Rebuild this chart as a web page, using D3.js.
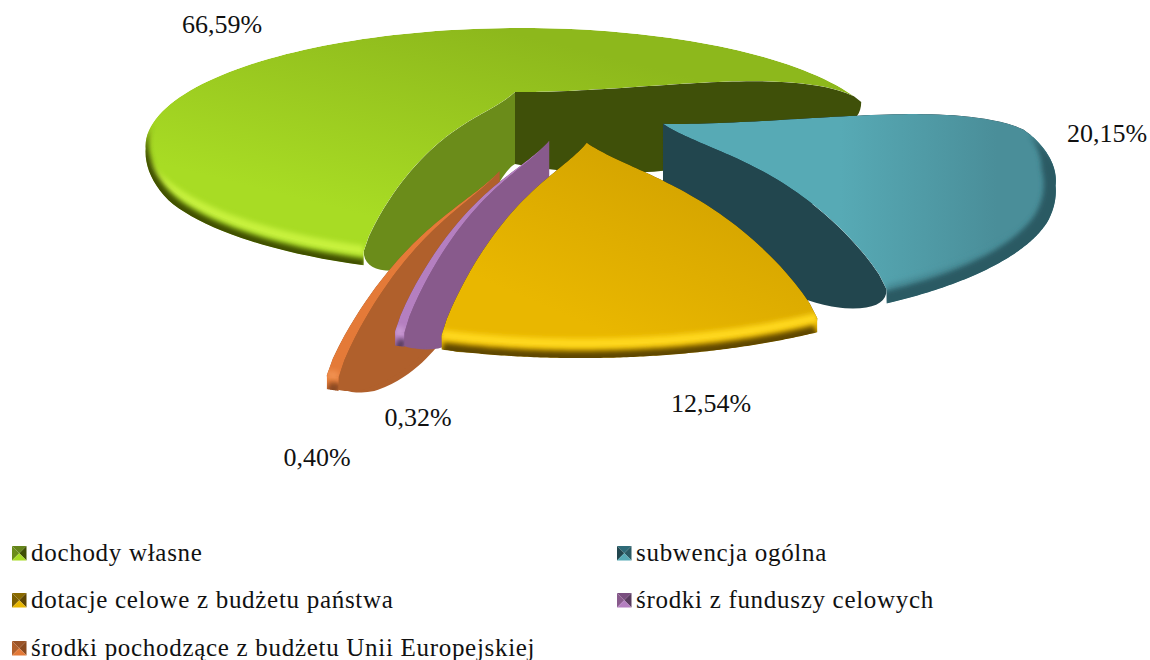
<!DOCTYPE html>
<html>
<head>
<meta charset="utf-8">
<script src="https://cdn.jsdelivr.net/npm/d3@7"></script>
<style>
    body { margin: 0; background: #fff; }
    text { font-family: "Liberation Serif", serif; fill: #111; }
</style>
</head>
<body>
<svg id="chart" width="1150" height="660"></svg>
<script>
// Values
const categories = ["dochody własne", "subwencja ogólna", "dotacje celowe z budżetu państwa",
    "środki z funduszy celowych", "środki pochodzące z budżetu Unii Europejskiej"];
const shares = [66.59, 20.15, 12.54, 0.32, 0.40];
const shareLabels = ["66,59%", "20,15%", "12,54%", "0,32%", "0,40%"];

// How far each slice is pulled out of the pie, and a small turn (degrees) of that direction
const explode = [0.25, 0.25, 0.25, 0.25, 0.47];
const explodeTurn = [0, 0, 3, 1, 6];
// Back to front
const drawOrder = [0, 1, 4, 3, 2];

const colors = [
    {from: "#8db81c", to: "#a8dc24", light: "#c8f23e", dark: "#3f4f04", wallStart: "#6b8c1a", wallEnd: "#3f5009", mid: "#64841a", band: "#a8dc24"},
    {from: "#4a8e99", to: "#57aab5", light: "#4a8e99", dark: "#2b5a64", wallStart: "#22464e", wallEnd: "#22464e", mid: "#2f6b78", band: "#4a8e99"},
    {from: "#d4a400", to: "#e9b700", light: "#ffd81c", dark: "#5f4600", wallStart: "#7d6000", wallEnd: "#7d6000", mid: "#8a6a00", band: "#e9b700"},
    {from: "#b47fc0", to: "#b47fc0", light: "#c898d2", dark: "#5a3c60", wallStart: "#885a8c", wallEnd: "#885a8c", mid: "#7a4f80", band: "#b47fc0"},
    {from: "#e47a38", to: "#e47a38", light: "#f09050", dark: "#8a4a20", wallStart: "#b0602c", wallEnd: "#b0602c", mid: "#9a5428", band: "#e47a38"}
];

const labelPos = [[222, 33], [1107, 142], [711, 412], [418, 426], [317, 466]];
const legendPos = [[12, 561], [617, 561], [12, 608], [617, 608], [12, 656]];

// Projection of the tilted disc
const disc = {x: 515, y: 92, a: 330, b: 92.8, q: 0.45, roll: -0.005, warp: 0.3, warp2: 0.035, start: 199.5 * Math.PI / 180};
const thick = 72, rim = 14, domeTop = 30, domeBottom = 30, sidePush = 25;

function project(u, v) {
    let w = 1 - disc.q * v;
    return [disc.a * u / w, disc.b * v / w];
}

function warped(a) {
    return a + disc.warp * Math.sin(a) + disc.warp2 * Math.sin(2 * a);
}

// Bow of the cut edges, 0 at both ends, largest well past half way out
function bow(r) {
    return 2.4 * Math.pow(r, 1.5) * Math.pow(Math.max(0, 1 - r * r * r), 0.7);
}

// Same for edges that run sideways
function bowSide(r) {
    return 4 * r * (1 - r);
}

let svg = d3.select("#chart");
let defs = svg.append("defs");
defs.append("filter").attr("id", "soft").attr("x", "-20%").attr("y", "-20%").attr("width", "140%").attr("height", "140%")
    .append("feGaussianBlur").attr("stdDeviation", 2.6);

let pie = d3.pie().sort(null).startAngle(disc.start).endAngle(disc.start + 2 * Math.PI);
let arcs = pie(shares);

let line = d3.line();

// The big slice stays at the disc origin, the others move relative to it
let midFirst = (arcs[0].startAngle + arcs[0].endAngle) / 2;
let origin = [-explode[0] * Math.sin(midFirst), explode[0] * Math.cos(midFirst)];

function sliceGeometry(d, i) {
    let mid = (d.startAngle + d.endAngle) / 2 + explodeTurn[i] * Math.PI / 180;
    let cu = origin[0] + explode[i] * Math.sin(mid);
    let cv = origin[1] - explode[i] * Math.cos(mid);
    let c = project(cu, cv);
    let apex = [disc.x + c[0], disc.y + c[1]];
    let scale = 1 / (1 - 0.2 * cv);
    let scaleY = scale * (1 + 0.2 * cv);

    // point of the top face at radius r, angle a
    function point(a, r) {
        let t = warped(a);
        let p = project(r * Math.sin(t), -r * Math.cos(t));
        let x = apex[0] + scale * p[0];
        let y = apex[1] + scaleY * p[1] + disc.roll * scale * p[0];
        return [x, y];
    }
    function facing(a) {
        return Math.max(0, -Math.cos(warped(a)));
    }
    function topEdge(a, r) {
        let p = point(a, r);
        return [p[0], p[1] - domeTop * (0.5 + 0.5 * facing(a)) * bow(r)];
    }
    function bottomEdge(a, r) {
        let p = point(a, r);
        let f = facing(a);
        let side = -Math.sign(Math.sin(warped(a))) * f;
        let b = f * bow(r) + (1 - f) * bowSide(r);
        return [p[0] + side * sidePush * bow(r), p[1] + (thick * (1 - r) + rim * r) + domeBottom * b];
    }
    return {apex: apex, scale: scale, point: point, topEdge: topEdge, bottomEdge: bottomEdge};
}

function wallPath(g, a) {
    let rs = d3.range(0, 1.0001, 0.02);
    let pts = rs.map(function(r) { return g.topEdge(a, r); });
    let end = g.point(a, 1);
    let inner = g.bottomEdge(a, 0.93);
    // rounded outer corner of the wall
    d3.range(0.1, 1.001, 0.1).forEach(function(t) {
        let cx = end[0], cy = end[1] + rim * 1.5;
        pts.push([(1 - t) * (1 - t) * end[0] + 2 * t * (1 - t) * cx + t * t * inner[0],
                  (1 - t) * (1 - t) * end[1] + 2 * t * (1 - t) * cy + t * t * inner[1]]);
    });
    rs.filter(function(r) { return r <= 0.93; }).reverse().forEach(function(r) {
        pts.push(g.bottomEdge(a, r));
    });
    return line(pts) + "Z";
}

// 0 where the rim is hidden, 1 at the front. The teal slice shows its rim further back.
function frontness(a, i) {
    let t = warped(a);
    let c = -Math.cos(t);
    let f = i == 1 ? (c - 0.1) / 0.5 : (c - 0.3) / 0.4;
    return Math.max(0, Math.min(1, f));
}

let drawSlice = function(i) {
    let d = arcs[i];
    let g = sliceGeometry(d, i);
    let col = colors[i];
    let layer = svg.append("g").attr("class", "slice");

    let angles = d3.range(0, 1.0001, 1 / 120).map(function(t) {
        return d.startAngle + t * (d.endAngle - d.startAngle);
    });
    let rs = d3.range(0, 1.0001, 0.02);

    // top face outline
    let face = rs.map(function(r) { return g.topEdge(d.startAngle, r); })
        .concat(angles.map(function(a) { return g.point(a, 1); }))
        .concat(rs.slice().reverse().map(function(r) { return g.topEdge(d.endAngle, r); }));

    // band under the rim
    let band = angles.map(function(a) { return g.point(a, 1); })
        .concat(angles.slice().reverse().map(function(a) {
            let p = g.point(a, 1);
            return [p[0], p[1] + rim * frontness(a, i)];
        }));

    layer.append("path").attr("d", wallPath(g, d.startAngle)).attr("fill", col.wallStart);
    layer.append("path").attr("d", wallPath(g, d.endAngle)).attr("fill", col.wallEnd);

    let grad = defs.append("linearGradient").attr("id", "face" + i)
        .attr("x1", 1).attr("y1", 0)
        .attr("x2", i == 1 ? 0 : 0.2).attr("y2", i == 1 ? 0 : 1);
    grad.append("stop").attr("offset", i == 1 ? "15%" : "25%").attr("stop-color", col.from);
    grad.append("stop").attr("offset", i == 1 ? "55%" : "85%").attr("stop-color", col.to);

    let clip = defs.append("clipPath").attr("id", "body" + i);
    clip.append("path").attr("d", line(face) + "Z");
    clip.append("path").attr("d", line(band) + "Z");

    let body = layer.append("g").attr("clip-path", "url(#body" + i + ")");
    body.append("path").attr("d", line(face) + "Z").attr("fill", "url(#face" + i + ")");
    body.append("path").attr("d", line(band) + "Z").attr("fill", col.band);

    // soft bevel: a light and a dark ribbon that thin out towards the back
    let ribbon = function(k0, k1, w) {
        let outer = angles.map(function(a) {
            let f = frontness(a, i);
            let p = g.point(a, 1 + w * Math.min(1, f * 2));
            return [p[0], p[1] + rim * k1 * f];
        });
        let inner = angles.map(function(a) {
            let f = frontness(a, i);
            let p = g.point(a, 1 - w * Math.min(1, f * 2));
            return [p[0], p[1] + rim * k0 * f];
        });
        return line(outer.concat(inner.reverse())) + "Z";
    };
    body.append("path").attr("d", ribbon(-0.4, 0.3, 0)).attr("fill", col.light).attr("filter", "url(#soft)");
    body.append("path").attr("d", ribbon(0.75, 1.4, i == 1 ? 0.025 : 0.01)).attr("fill", col.dark).attr("filter", "url(#soft)");
};

drawOrder.forEach(drawSlice);

// Percent labels
svg.selectAll(".share").data(shareLabels).enter().append("text")
    .attr("class", "share")
    .attr("x", function(d, i) { return labelPos[i][0]; })
    .attr("y", function(d, i) { return labelPos[i][1]; })
    .attr("text-anchor", "middle")
    .attr("font-size", 26)
    .text(function(d) { return d; });

// Legend
let legend = svg.selectAll(".legend").data(categories).enter().append("g")
    .attr("class", "legend")
    .attr("transform", function(d, i) { return "translate(" + legendPos[i][0] + "," + legendPos[i][1] + ")"; });

legend.append("text")
    .attr("x", 19)
    .attr("font-size", 25)
    .attr("letter-spacing", 0.7)
    .text(function(d) { return d; });

// Pyramid key, four shaded triangles
let keySize = 14.5;
let keyParts = [
    {pts: [[0, 0], [1, 0], [0.5, 0.5]], fill: function(c) { return c.mid; }},
    {pts: [[0, 0], [0, 1], [0.5, 0.5]], fill: function(c) { return c.wallStart; }},
    {pts: [[1, 0], [1, 1], [0.5, 0.5]], fill: function(c) { return c.dark; }},
    {pts: [[0, 1], [1, 1], [0.5, 0.5]], fill: function(c) { return c.to; }}
];
legend.each(function(d, i) {
    let key = d3.select(this).append("g").attr("transform", "translate(0," + (-15) + ")");
    keyParts.forEach(function(part) {
        key.append("path")
            .attr("d", line(part.pts.map(function(p) { return [p[0] * keySize, p[1] * keySize]; })) + "Z")
            .attr("fill", part.fill(colors[i]));
    });
});
</script>
</body>
</html>
